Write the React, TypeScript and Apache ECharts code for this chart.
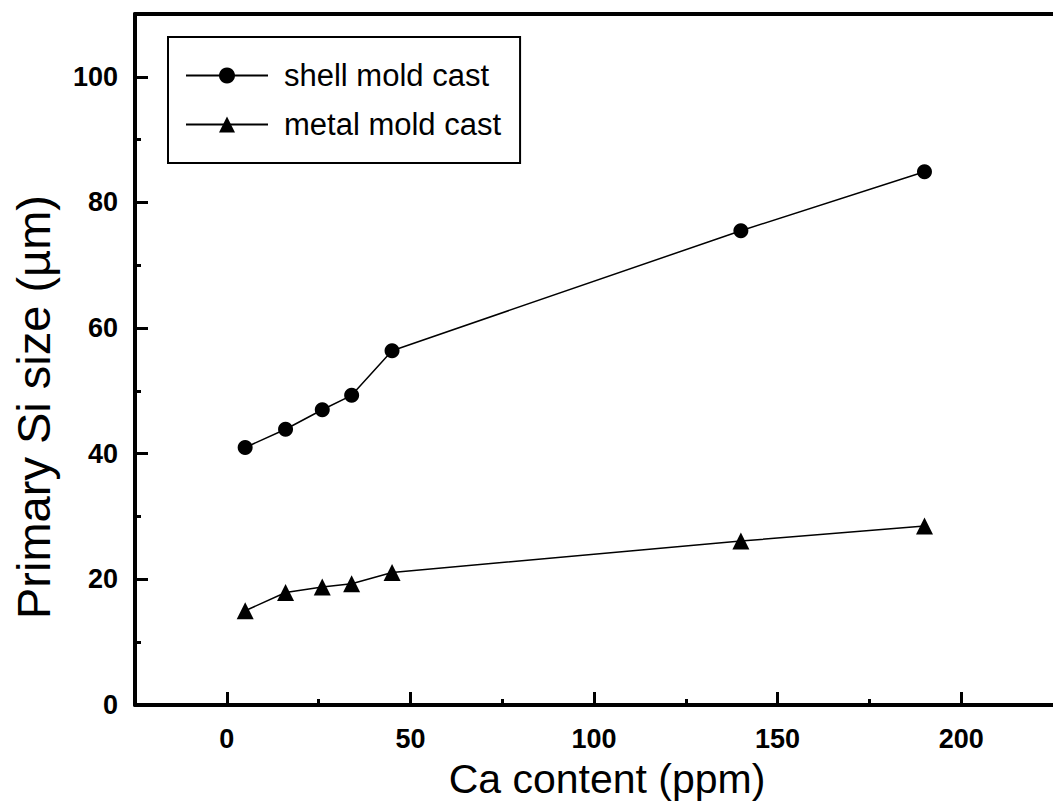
import React, { useEffect, useRef } from "react";
import * as echarts from "echarts";

const caContent = [5, 16, 26, 34, 45, 140, 190];
const shellMold = [41.0, 43.9, 47.0, 49.3, 56.4, 75.5, 84.9];
const metalMold = [15.0, 17.9, 18.8, 19.3, 21.1, 26.1, 28.5];
const xMajorTicks = [0, 50, 100, 150, 200];
const xMinorTicks = [25, 75, 125, 175];
const yMajorTicks = [0, 20, 40, 60, 80, 100];
const seriesNames = ["shell mold cast", "metal mold cast"];
const xTitle = "Ca content (ppm)";
const yTitle = "Primary Si size (\u00b5m)";

const FONT = "'Liberation Sans', Arial, Helvetica, sans-serif";
const INK = "#000";

export default function App() {
  const ref = useRef<HTMLDivElement>(null);
  useEffect(() => {
    if (!ref.current) return;
    const chart = echarts.init(ref.current, undefined, { renderer: "svg" });
    const xCommon = {
      type: "value",
      min: -25,
      max: 225,
      splitLine: { show: false },
    };
    chart.setOption({
      animation: false,
      backgroundColor: "#fff",
      textStyle: { fontFamily: FONT, color: INK },
      grid: {
        left: 135,
        top: 14,
        right: -3,
        bottom: 102,
        show: false,
        containLabel: false,
      },
      legend: {
        orient: "vertical",
        left: 168,
        top: 37,
        padding: [23, 19, 23, 17],
        itemGap: 18,
        itemWidth: 82,
        itemHeight: 20,
        borderColor: INK,
        borderWidth: 2,
        backgroundColor: "#fff",
        data: seriesNames,
        textStyle: {
          fontFamily: FONT,
          fontSize: 31,
          color: INK,
          padding: [0, 0, 0, 11],
        },
      },
      graphic: [
        {
          type: "text",
          x: 607,
          y: 779,
          style: {
            text: xTitle,
            fontFamily: FONT,
            fontSize: 41,
            fill: INK,
            align: "center",
            verticalAlign: "middle",
          },
        },
        {
          type: "text",
          x: 33,
          y: 407,
          rotation: Math.PI / 2,
          style: {
            text: yTitle,
            fontFamily: FONT,
            fontSize: 47,
            fill: INK,
            align: "center",
            verticalAlign: "middle",
          },
        },
      ],
      xAxis: [
        {
          ...xCommon,
          position: "bottom",
          axisLine: { show: true, onZero: false, lineStyle: { color: INK, width: 4 } },
          axisTick: {
            show: true,
            inside: true,
            length: 13,
            lineStyle: { color: INK, width: 3 },
            customValues: xMajorTicks,
          },
          axisLabel: {
            show: true,
            margin: 20,
            fontFamily: FONT,
            fontSize: 27,
            fontWeight: "bold",
            color: INK,
            customValues: xMajorTicks,
          },
        },
        {
          ...xCommon,
          position: "bottom",
          axisLine: { show: false, onZero: false },
          axisLabel: { show: false },
          axisTick: {
            show: true,
            inside: true,
            length: 6,
            lineStyle: { color: INK, width: 3 },
            customValues: xMinorTicks,
          },
        },
        {
          ...xCommon,
          position: "top",
          axisLine: { show: true, onZero: false, lineStyle: { color: INK, width: 4 } },
          axisLabel: { show: false },
          axisTick: { show: false },
        },
      ],
      yAxis: [
        {
          type: "value",
          min: 0,
          max: 110,
          interval: 20,
          splitLine: { show: false },
          position: "left",
          axisLine: { show: true, onZero: false, lineStyle: { color: INK, width: 4 } },
          axisTick: {
            show: true,
            inside: true,
            length: 13,
            lineStyle: { color: INK, width: 3 },
            customValues: yMajorTicks,
          },
          minorTick: {
            show: true,
            splitNumber: 2,
            length: 6,
            lineStyle: { color: INK, width: 3 },
          },
          axisLabel: {
            show: true,
            margin: 17,
            fontFamily: FONT,
            fontSize: 27,
            fontWeight: "bold",
            color: INK,
            customValues: yMajorTicks,
          },
        },
      ],
      series: [
        {
          name: seriesNames[0],
          type: "line",
          data: caContent.map((x, i) => [x, shellMold[i]]),
          symbol: "circle",
          symbolSize: 15,
          itemStyle: { color: INK },
          lineStyle: { color: INK, width: 1.5 },
        },
        {
          name: seriesNames[1],
          type: "line",
          data: caContent.map((x, i) => [x, metalMold[i]]),
          symbol: "triangle",
          symbolSize: 17,
          itemStyle: { color: INK },
          lineStyle: { color: INK, width: 1.5 },
        },
      ],
    });
    return () => chart.dispose();
  }, []);
  return (
    <div
      ref={ref}
      style={{ position: "absolute", left: 0, top: 0, width: 1053, height: 807 }}
    />
  );
}
